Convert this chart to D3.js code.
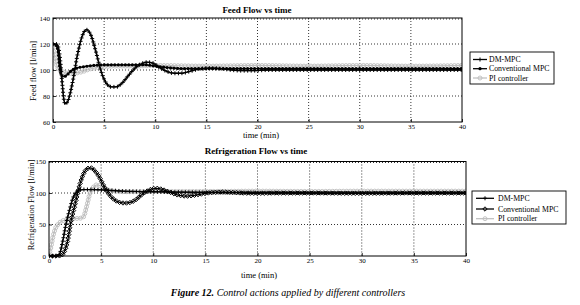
<!DOCTYPE html>
<html><head><meta charset="utf-8">
<script src="https://cdn.jsdelivr.net/npm/d3@7"></script>
<style>
body{margin:0;background:#fff}
svg{display:block}
text{font-family:"Liberation Serif","Times New Roman",serif;fill:#000}
</style>
</head><body>
<svg id="c" width="580" height="305"></svg>
<script>
// ---------- data ----------
const xTicks = [0,5,10,15,20,25,30,35,40];
const feedYTicks = [60,80,100,120,140];
const refYTicks = [0,50,100,150];
const seriesNames = ["DM-MPC","Conventional MPC","PI controller"];

// Feed flow vs time [t(min), l/min]
const feedDM = [[0,120],[0.3,120],[0.5,118],[0.7,108],[0.9,90],[1.05,78],[1.2,74],[1.5,77],[1.9,90],[2.4,112],[2.9,127],[3.25,131],[3.7,127],[4.2,114],[4.7,99],[5.2,90],[5.7,87],[6.2,87],[6.7,89.5],[7.4,96],[8.1,102],[8.7,105],[9.2,106],[9.7,105.5],[10.4,102],[11.1,99],[11.9,97.5],[12.5,97.5],[13.4,99],[14.4,101],[15.5,101.5],[16.5,101],[17.5,100],[18.5,99.5],[19.5,99.5],[21,100],[25,100],[30,100],[35,100],[40,100]];
const feedConv = [[0,120],[0.3,119],[0.5,114],[0.65,103],[0.85,95.5],[1.1,95],[1.4,96.5],[1.8,99.5],[2.3,101.5],[3.0,102.5],[4,103.5],[5,104],[7,104],[9,104],[10,103],[11,102],[13,101],[15,101],[20,101],[30,101],[40,101]];
const feedPI = [[0,117],[0.2,109],[0.4,103],[0.6,100],[1.0,98.5],[1.5,97.5],[2.0,97.5],[2.5,98],[3.0,99],[3.5,100.5],[4,101.5],[5,102.5],[6,103],[8,103],[10,103.5],[15,103],[20,103.5],[25,103],[30,103.5],[35,103],[40,103.5]];

// Refrigeration flow vs time
const refDM = [[0,0],[0.7,0],[1.0,3],[1.3,22],[1.6,48],[2.0,75],[2.3,92],[2.6,101],[2.9,104.5],[3.3,105.5],[4,105.5],[5,105],[6,104],[7,103],[8,102.5],[10,102],[12,101.5],[15,101],[20,100.5],[25,100],[30,100],[40,100]];
const refConv = [[0,0],[0.8,0],[1.2,1],[1.5,8],[1.8,25],[2.05,50],[2.5,82],[2.9,110],[3.3,130],[3.7,139],[4.0,140],[4.3,137],[4.8,126],[5.3,110],[5.8,97],[6.3,89],[6.8,85],[7.3,84],[7.8,85],[8.3,89],[8.8,96],[9.3,102],[9.8,106],[10.3,107.5],[10.8,106],[11.3,103],[11.8,100],[12.3,97],[12.8,95.5],[13.3,95],[13.8,96],[14.5,98],[15.5,100.5],[16.5,101.5],[17.5,101],[18.5,100],[20,99.5],[22,100],[25,100],[30,99.5],[35,100],[40,100]];
const refPI = [[0,2],[0.2,15],[0.4,32],[0.6,43],[0.9,51],[1.2,55],[1.6,57.5],[2.0,59],[2.5,59.5],[3.0,60],[3.3,62],[3.6,78],[3.9,98],[4.2,108],[4.6,113],[5.0,111],[5.5,106],[6,103.5],[7,102],[8,102],[10,102.5],[15,102.5],[20,103],[25,102.5],[30,103],[35,103],[40,103]];

// ---------- drawing ----------
const svg = d3.select("#c");
const GRAY = "#bdbdbd";

function marker(g, kind, x, y){
  if(kind==="plus"){
    g.append("path").attr("d",`M${x-2},${y}H${x+2}M${x},${y-2}V${y+2}`).attr("stroke","#000").attr("stroke-width",1);
  } else if(kind==="dot"){
    g.append("circle").attr("cx",x).attr("cy",y).attr("r",1.6).attr("fill","#000");
  } else if(kind==="diamond"){
    g.append("path").attr("d",`M${x},${y-2.2}L${x+2.2},${y}L${x},${y+2.2}L${x-2.2},${y}Z`).attr("fill","none").attr("stroke","#000").attr("stroke-width",1);
  } else if(kind==="circle"){
    g.append("circle").attr("cx",x).attr("cy",y).attr("r",2).attr("fill","none").attr("stroke",GRAY).attr("stroke-width",0.9);
  }
}

function chart(cfg){
  const x = d3.scaleLinear().domain([0,40]).range([cfg.l,cfg.r]);
  const y = d3.scaleLinear().domain(cfg.yDomain).range([cfg.b,cfg.t]);
  const g = svg.append("g");
  const cid = "clip"+cfg.id;
  svg.append("clipPath").attr("id",cid).append("rect")
    .attr("x",cfg.l).attr("y",cfg.t-3).attr("width",cfg.r-cfg.l).attr("height",cfg.b-cfg.t+6);

  // grid
  const grid = g.append("g").attr("stroke","#000").attr("stroke-width",0.8).attr("stroke-dasharray","1,2");
  xTicks.slice(1,-1).forEach(v=>grid.append("line").attr("x1",x(v)).attr("x2",x(v)).attr("y1",cfg.t).attr("y2",cfg.b));
  cfg.yTicks.slice(1,-1).forEach(v=>grid.append("line").attr("x1",cfg.l).attr("x2",cfg.r).attr("y1",y(v)).attr("y2",y(v)));
  grid.append("line").attr("x1",cfg.l).attr("x2",cfg.r).attr("y1",cfg.t+1).attr("y2",cfg.t+1);

  // axes with small inward ticks
  const xa = g.append("g").attr("transform",`translate(0,${cfg.b})`)
    .call(d3.axisBottom(x).tickValues(xTicks).tickSizeInner(-3).tickSizeOuter(0).tickPadding(2));
  const ya = g.append("g").attr("transform",`translate(${cfg.l},0)`)
    .call(d3.axisLeft(y).tickValues(cfg.yTicks).tickSizeInner(-3).tickSizeOuter(0).tickPadding(3));
  [xa,ya].forEach(a=>{a.select(".domain").remove(); a.selectAll("line").attr("stroke","#000").attr("stroke-width",0.8);
    a.selectAll("text").attr("font-size",7).attr("font-family","Liberation Serif");});
  xa.selectAll("text").attr("y",2).attr("dy","0.75em");
  ya.selectAll("text").attr("x",-3);

  // series
  const line = d3.line().x(d=>x(d[0])).y(d=>y(d[1])).curve(d3.curveMonotoneX);
  const layer = g.append("g").attr("clip-path",`url(#${cid})`);
  cfg.series.forEach(s=>{
    const p = layer.append("path").datum(s.data).attr("d",line).attr("fill","none")
      .attr("stroke",s.color).attr("stroke-width",s.width);
    const node = p.node(), L = node.getTotalLength();
    const mg = layer.append("g");
    for(let d=0; d<=L; d+=s.step){
      const pt = node.getPointAtLength(d);
      marker(mg, s.marker, pt.x, pt.y);
    }
  });

  // frame
  g.append("rect").attr("x",cfg.l).attr("y",cfg.t).attr("width",cfg.r-cfg.l).attr("height",cfg.b-cfg.t)
    .attr("fill","none").attr("stroke","#000").attr("stroke-width",1);

  // labels
  g.append("text").attr("x",cfg.titleX).attr("y",cfg.titleY).attr("text-anchor","middle")
    .attr("font-size",9).attr("font-weight","bold").text(cfg.title);
  g.append("text").attr("x",cfg.xlabX).attr("y",cfg.xlabY).attr("text-anchor","middle")
    .attr("font-size",8.5).text("time (min)");
  g.append("text").attr("transform",`translate(${cfg.ylabX},${cfg.ylabY}) rotate(-90)`).attr("text-anchor","middle")
    .attr("font-size",8.5).text(cfg.ylab);

  // legend
  const lg = g.append("g");
  lg.append("rect").attr("x",cfg.lg.x).attr("y",cfg.lg.y).attr("width",cfg.lg.w).attr("height",cfg.lg.h)
    .attr("fill","#fff").attr("stroke","#000").attr("stroke-width",0.9);
  cfg.series.forEach(s=>{
    const yy = cfg.lg.rows[s.idx];
    lg.append("line").attr("x1",cfg.lg.x1).attr("x2",cfg.lg.x2).attr("y1",yy).attr("y2",yy)
      .attr("stroke",s.color).attr("stroke-width",s.width);
    marker(lg, s.marker, (cfg.lg.x1+cfg.lg.x2)/2, yy);
    lg.append("text").attr("x",cfg.lg.tx).attr("y",yy+2.6).attr("font-size",7.8).text(seriesNames[s.idx]);
  });
}

chart({
  id:"a", l:53, r:462, t:18, b:122, yDomain:[60,140], yTicks:feedYTicks,
  title:"Feed Flow vs time", titleX:257, titleY:13,
  xlabX:261, xlabY:138, ylab:"Feed flow [l/min]", ylabX:36, ylabY:71,
  series:[
    {idx:2, data:feedPI, color:GRAY, width:1.2, marker:"circle", step:3.5},
    {idx:1, data:feedConv, color:"#000", width:1.3, marker:"dot", step:3.5},
    {idx:0, data:feedDM, color:"#000", width:1.3, marker:"plus", step:3.5}
  ],
  lg:{x:470, y:52, w:84, h:32, rows:[59.5,68.7,78], x1:473, x2:487, tx:489}
});

chart({
  id:"b", l:49, r:466, t:161.5, b:256, yDomain:[0,150], yTicks:refYTicks,
  title:"Refrigeration Flow vs time", titleX:256, titleY:154,
  xlabX:259, xlabY:277.5, ylab:"Refrigeration Flow [l/min]", ylabX:34, ylabY:205,
  series:[
    {idx:2, data:refPI, color:GRAY, width:1.2, marker:"circle", step:3.5},
    {idx:1, data:refConv, color:"#000", width:1.3, marker:"diamond", step:3.5},
    {idx:0, data:refDM, color:"#000", width:1.3, marker:"plus", step:3.5}
  ],
  lg:{x:472, y:191, w:94, h:33, rows:[198.3,209,218.7], x1:476, x2:494, tx:498}
});

// caption
const cap = svg.append("text").attr("x",288).attr("y",296).attr("text-anchor","middle").attr("font-size",10).attr("font-style","italic");
cap.append("tspan").attr("font-weight","bold").text("Figure 12.");
cap.append("tspan").text(" Control actions applied by different controllers");
</script>
</body></html>
